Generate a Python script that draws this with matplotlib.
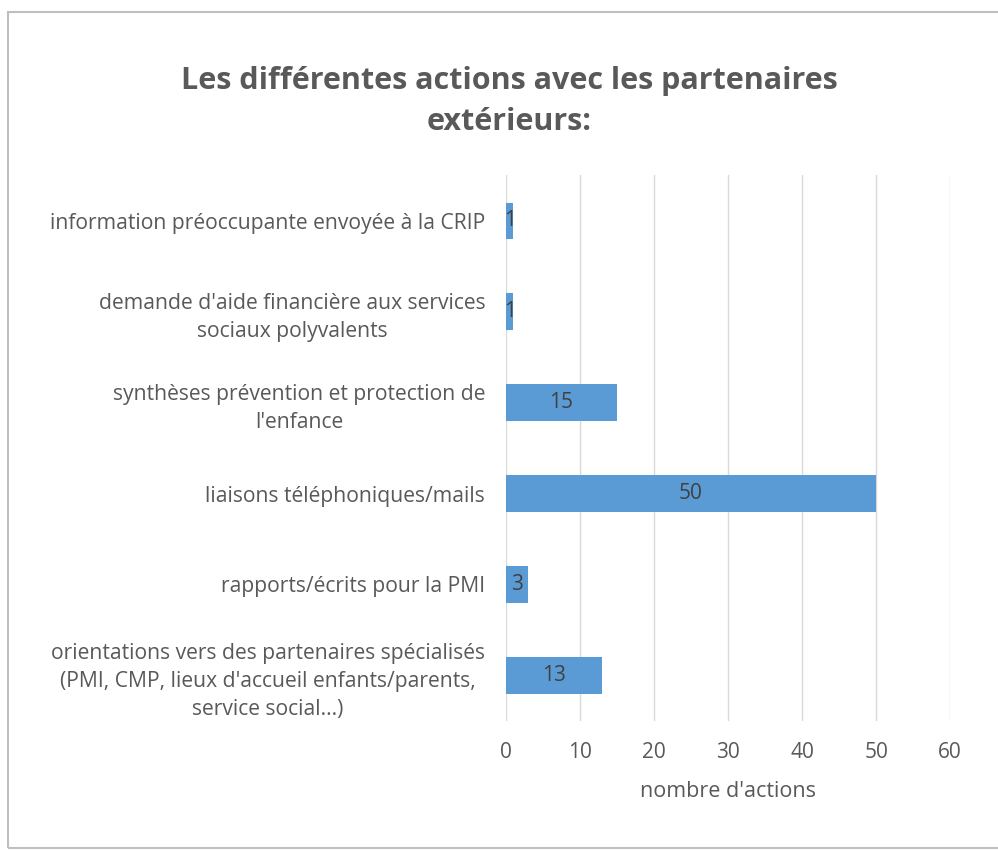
import matplotlib.pyplot as plt
from matplotlib.patches import Rectangle

plt.rcParams['font.family'] = ['Open Sans', 'DejaVu Sans']

categories = [
    "information préoccupante envoyée à la CRIP",
    "demande d'aide financière aux services\nsociaux polyvalents",
    "synthèses prévention et protection de\nl'enfance",
    "liaisons téléphoniques/mails",
    "rapports/écrits pour la PMI",
    "orientations vers des partenaires spécialisés\n(PMI, CMP, lieux d'accueil enfants/parents,\nservice social...)",
]
values = [1, 1, 15, 50, 3, 13]

text_color = '#595959'
bar_color = '#5B9BD5'

fig = plt.figure(figsize=(9.98, 8.51), dpi=100)
ax = fig.add_axes([0.507, 0.153, 0.445, 0.641])

pos = list(range(len(categories)))[::-1]
bars = ax.barh(pos, values, height=0.4, color=bar_color, zorder=2)
ax.bar_label(bars, labels=[str(v) for v in values], label_type='center',
             color='#404040', fontsize=15)

ax.set_xlim(0, 60)
ax.set_ylim(-0.5, len(categories) - 0.5)
ax.set_xticks(range(0, 61, 10))
ax.set_yticks(pos)
ax.set_yticklabels(categories, ha='right', multialignment='center',
                   fontsize=15.2, color=text_color, linespacing=1.45)
ax.tick_params(axis='both', length=0, colors=text_color)
ax.tick_params(axis='x', pad=15, labelsize=15)
ax.tick_params(axis='y', pad=15)
ax.grid(axis='x', color='#d9d9d9', linewidth=1, zorder=0)
for s in ax.spines.values():
    s.set_visible(False)
ax.set_xlabel("nombre d'actions", fontsize=15.5, color=text_color, labelpad=13)

fig.text(0.51, 0.881, "Les différentes actions avec les partenaires\nextérieurs:",
         ha='center', va='center', fontsize=22, fontweight='bold',
         color=text_color, linespacing=1.5)

fig.patches.append(Rectangle((8 / 998, 3 / 851), 1.0, 836 / 851,
                             transform=fig.transFigure, fill=False,
                             edgecolor='#bfbfbf', linewidth=1.5))

fig.savefig('out.png', dpi=100)
